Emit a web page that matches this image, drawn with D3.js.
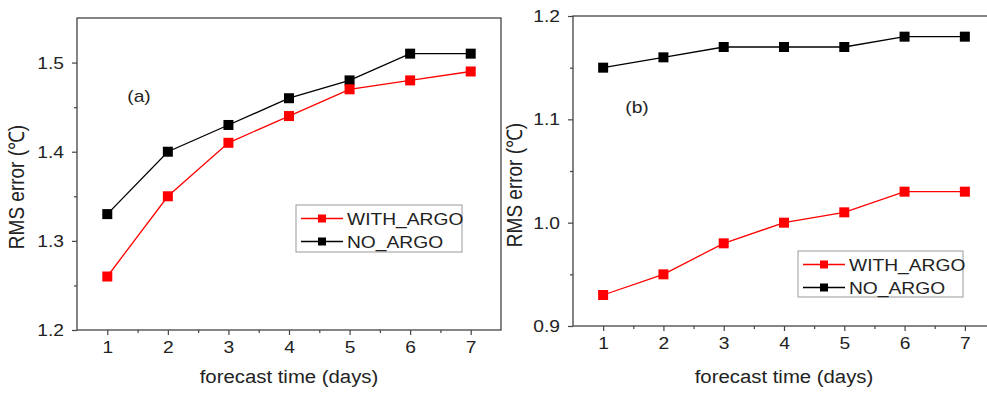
<!DOCTYPE html>
<html><head><meta charset="utf-8">
<script src="https://cdn.jsdelivr.net/npm/d3@7"></script>
<style>body{margin:0;background:#fff}svg{display:block}text{font-family:"Liberation Sans",Arial,sans-serif}</style>
</head><body><svg id="c" width="987" height="396"></svg>
<script>
const days = [1,2,3,4,5,6,7];
const seriesNames = ["WITH_ARGO","NO_ARGO"];
const seriesColors = ["#ff0000","#000000"];
const aWith = [1.26,1.35,1.41,1.44,1.47,1.48,1.49];
const aNo   = [1.33,1.40,1.43,1.46,1.48,1.51,1.51];
const bWith = [0.93,0.95,0.98,1.00,1.01,1.03,1.03];
const bNo   = [1.15,1.16,1.17,1.17,1.17,1.18,1.18];
const aTicks = [1.2,1.3,1.4,1.5];
const bTicks = [0.9,1.0,1.1,1.2];
const xLabel = "forecast time (days)";
const yLabel = "RMS error (℃)";

const svg = d3.select("#c");
const axisColor = "#444";
const txtColor = "#222";
const STRETCH = 1.13;

function panel(opt){
  const g = svg.append("g");
  const x = d3.scaleLinear().domain([0.5,7.5]).range([opt.left,opt.right]);
  const y = d3.scaleLinear().domain(opt.ydom).range([opt.bottom,opt.top]);
  g.append("rect").attr("x",opt.left).attr("y",opt.top)
    .attr("width",opt.right-opt.left).attr("height",opt.bottom-opt.top)
    .attr("fill","none").attr("stroke",axisColor).attr("stroke-width",1.3);
  const xa = g.append("g").attr("transform",`translate(0,${opt.bottom})`)
    .call(d3.axisBottom(x).tickValues(days).tickSize(5).tickPadding(6).tickFormat(d3.format("d")));
  const xm = g.append("g").attr("transform",`translate(0,${opt.bottom})`)
    .call(d3.axisBottom(x).tickValues(days.slice(0,6).map(d=>d+0.5)).tickSize(3).tickFormat(""));
  const ya = g.append("g").attr("transform",`translate(${opt.left},0)`)
    .call(d3.axisLeft(y).tickValues(opt.yticks).tickSize(5).tickPadding(8).tickFormat(d3.format(".1f")));
  const ym = g.append("g").attr("transform",`translate(${opt.left},0)`)
    .call(d3.axisLeft(y).tickValues(opt.yticks.slice(0,3).map(d=>d+0.05)).tickSize(3).tickFormat(""));
  [xa,xm,ya,ym].forEach(a=>{
    a.select(".domain").remove();
    a.selectAll("line").attr("stroke",axisColor).attr("stroke-width",1.2);
    a.selectAll("text").attr("font-size",17).attr("fill",txtColor)
      .style("font-family","'Liberation Sans',Arial,sans-serif").classed("stretch",true);
  });
  g.append("text").attr("x",(opt.left+opt.right)/2).attr("y",383).classed("stretch",true)
    .attr("text-anchor","middle").attr("font-size",18).attr("fill",txtColor).text(xLabel);
  g.append("text").attr("transform",`translate(${opt.ylx},${opt.yly}) rotate(-90) scale(1,${STRETCH})`)
    .attr("text-anchor","middle").attr("font-size",19).attr("fill",txtColor).text(yLabel);
  g.append("text").attr("x",opt.tag[0]).attr("y",opt.tag[1]).attr("text-anchor","middle").classed("stretch",true)
    .attr("font-size",17).attr("fill",txtColor).text(opt.tagText);
  const line = d3.line().x((d,i)=>x(days[i])).y(d=>y(d));
  const data = [opt.w, opt.n];
  [1,0].forEach(k=>{
    g.append("path").datum(data[k]).attr("d",line).attr("fill","none")
      .attr("stroke",seriesColors[k]).attr("stroke-width",1.3);
    g.selectAll(null).data(data[k]).enter().append("rect")
      .attr("x",(d,i)=>x(days[i])-5).attr("y",d=>y(d)-5)
      .attr("width",10).attr("height",10).attr("fill",seriesColors[k]);
  });
  const L = opt.legend;
  g.append("rect").attr("x",L.x).attr("y",L.y).attr("width",L.w).attr("height",L.h)
    .attr("fill","#fff").attr("stroke","#999").attr("stroke-width",1);
  seriesNames.forEach((s,k)=>{
    const cy = L.y + 13.5 + k*23;
    g.append("line").attr("x1",L.x+5).attr("x2",L.x+47).attr("y1",cy).attr("y2",cy)
      .attr("stroke",seriesColors[k]).attr("stroke-width",1.3);
    g.append("rect").attr("x",L.x+26-4).attr("y",cy-4).attr("width",8).attr("height",8)
      .attr("fill",seriesColors[k]);
    g.append("text").attr("x",L.x+51).attr("y",cy+6.5).attr("font-size",17).classed("stretch",true)
      .attr("fill",txtColor).text(s);
  });
}

panel({left:77,right:501,top:18,bottom:330,ydom:[1.2,1.55],yticks:aTicks,w:aWith,n:aNo,
  ylx:24,yly:187,tag:[139,102],tagText:"(a)",legend:{x:296,y:205,w:166,h:47}});
panel({left:573,right:995,top:16,bottom:326,ydom:[0.9,1.2],yticks:bTicks,w:bWith,n:bNo,
  ylx:522,yly:185,tag:[637,113],tagText:"(b)",legend:{x:798,y:251,w:165,h:46}});

svg.selectAll("text.stretch").each(function(){
  const len = this.getComputedTextLength();
  d3.select(this).attr("textLength",len*STRETCH).attr("lengthAdjust","spacingAndGlyphs");
});
</script></body></html>
